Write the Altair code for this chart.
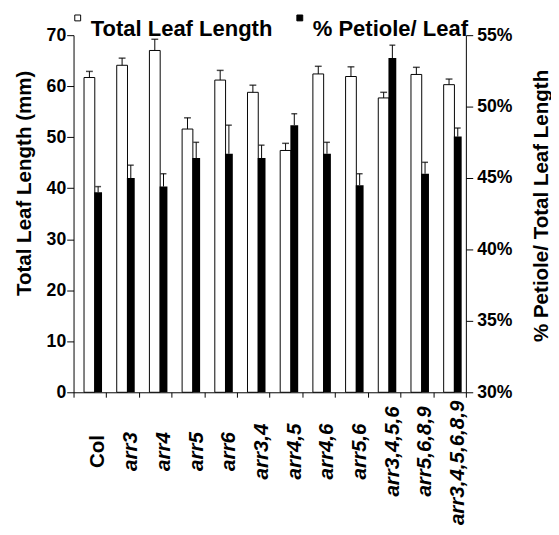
import altair as alt
import pandas as pd

genotypes = ["Col", "arr3", "arr4", "arr5", "arr6", "arr3,4", "arr4,5", "arr4,6",
             "arr5,6", "arr3,4,5,6", "arr5,6,8,9", "arr3,4,5,6,8,9"]
leaf_length = [61.7, 64.1, 67.0, 51.6, 61.2, 58.8, 47.4, 62.4, 61.9, 57.7, 62.3, 60.3]
leaf_length_err = [1.2, 1.4, 2.2, 2.2, 1.9, 1.4, 1.4, 1.5, 1.9, 1.1, 1.4, 1.1]
petiole_pct = [44.0, 45.0, 44.4, 46.4, 46.7, 46.4, 48.7, 46.7, 44.5, 53.4, 45.3, 47.9]
petiole_pct_err = [0.4, 0.9, 0.9, 1.1, 2.0, 0.9, 0.8, 0.8, 0.8, 0.9, 0.8, 0.6]
series_names = ["Total Leaf Length", "% Petiole/ Leaf"]
left_ticks = [0, 10, 20, 30, 40, 50, 60, 70]
right_ticks = [30, 35, 40, 45, 50, 55]

df = pd.DataFrame({
    "genotype": genotypes,
    "length": leaf_length,
    "length_err": leaf_length_err,
    "pct": petiole_pct,
    "pct_err": petiole_pct_err,
})

FONT = "Liberation Sans"

# the longest label sits a little lower in the reference: pad its top end
# (a trailing zero-width space keeps the no-break spaces from being trimmed)
label_expr = ("datum.value === '" + genotypes[-1] + "' ? datum.value + "
              "'\\u00a0\\u00a0\\u00a0\\u00a0\\u200b' : datum.value")

x_scale = alt.Scale(paddingInner=0, paddingOuter=0)
x_axis = alt.X(
    "genotype:N", sort=genotypes, scale=x_scale, title=None,
    axis=alt.Axis(
        labelAngle=270, labelAlign="center", labelBaseline="middle",
        labelPadding=55, labelOffset=8.4, labelFontSize=21, labelFontWeight="bold",
        labelFontStyle={"condition": {"test": "datum.value === 'Col'", "value": "normal"},
                        "value": "italic"},
        labelExpr=label_expr,
        tickBand="extent", tickSize=5, labelOverlap=False, labelLimit=0,
    ),
)
x_plain = alt.X("genotype:N", sort=genotypes, scale=x_scale, title=None)

fill_scale = alt.Scale(domain=series_names, range=["white", "black"])
legend = alt.Legend(
    title=None, orient="none", legendX=-7, legendY=-29, direction="horizontal",
    symbolType="square", symbolSize=36, symbolStrokeColor="black", symbolStrokeWidth=1,
    symbolOffset=0,
    labelFontSize=22.5, labelFontWeight="bold", labelFont=FONT, labelColor="black",
    labelLimit=0, labelOffset=2, columnPadding=16, labelBaseline="top", padding=0,
)

left_y = alt.Y(
    "length:Q", scale=alt.Scale(domain=[0, 70], nice=False),
    axis=alt.Axis(orient="left", values=left_ticks, title="Total Leaf Length (mm)",
                  labelFontSize=18, labelFontWeight="bold", labelPadding=1, tickSize=7,
                  titleFontSize=21, titleFontWeight="bold", titleAngle=270,
                  titleX=-50, titleY=151, titleAlign="center", titleBaseline="middle"),
)
right_y = alt.Y(
    "pct:Q", scale=alt.Scale(domain=[30, 55], nice=False, zero=False),
    axis=alt.Axis(orient="right", values=right_ticks, labelExpr="datum.value + '%'",
                  title="% Petiole/ Total Leaf Length",
                  labelFontSize=18, labelFontWeight="bold", labelPadding=4, tickSize=7,
                  titleFontSize=21, titleFontWeight="bold", titleAngle=270,
                  titleX=77, titleY=174, titleAlign="center", titleBaseline="middle"),
)

base = alt.Chart(df).transform_calculate(
    len_hi="datum.length + datum.length_err",
    pct_hi="datum.pct + datum.pct_err",
)

len_bars = base.transform_calculate(series="'Total Leaf Length'").mark_bar(
    width=11, xOffset=-0.5, stroke="black", strokeWidth=1
).encode(
    x=x_axis, y=left_y,
    fill=alt.Fill("series:N", scale=fill_scale, legend=legend),
)
len_rule = base.mark_rule(xOffset=-0.5, color="black", strokeWidth=1).encode(
    x=x_plain, y=alt.Y("length:Q"), y2="len_hi:Q"
)
len_cap = base.mark_tick(size=7, thickness=1.5, color="black", xOffset=-0.5).encode(
    x=x_plain, y=alt.Y("len_hi:Q")
)

pct_bars = base.transform_calculate(series="'% Petiole/ Leaf'").mark_bar(
    width=8, xOffset=8.4
).encode(
    x=x_plain, y=right_y, y2=alt.datum(30),
    fill=alt.Fill("series:N", scale=fill_scale, legend=legend),
)
pct_rule = base.mark_rule(xOffset=8.4, color="black", strokeWidth=1).encode(
    x=x_plain, y=alt.Y("pct:Q"), y2="pct_hi:Q"
)
pct_cap = base.mark_tick(size=6, thickness=1.5, color="black", xOffset=8.4).encode(
    x=x_plain, y=alt.Y("pct_hi:Q")
)

left_layer = alt.layer(len_bars, len_rule, len_cap)
right_layer = alt.layer(pct_bars, pct_rule, pct_cap)

chart = alt.layer(left_layer, right_layer).resolve_scale(
    y="independent"
).properties(
    width=401, height=365, padding={"left": 6, "top": -7, "right": 0, "bottom": 0},
    background="white",
).configure_view(stroke=None).configure_axis(
    domainColor="black", tickColor="black", labelColor="black", titleColor="black",
    domainWidth=1, tickWidth=1, labelFont=FONT, titleFont=FONT, grid=False,
)

chart.save("out.html", embed_options={"renderer": "svg", "actions": False})
